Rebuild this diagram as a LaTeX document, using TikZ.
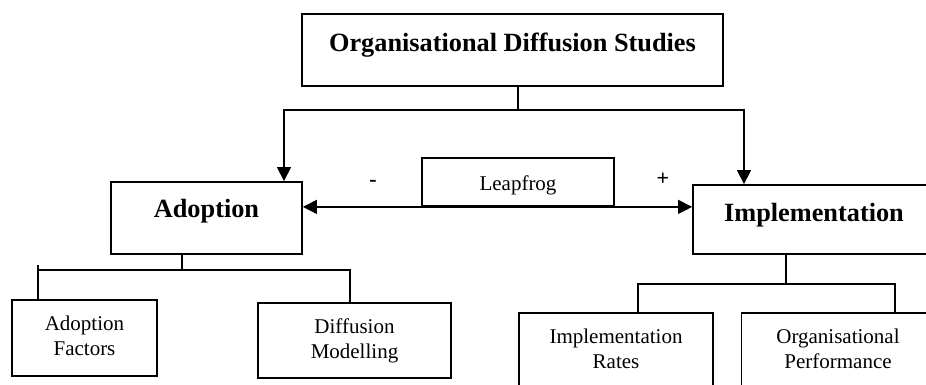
\documentclass[tikz,border=0pt]{standalone}
\usepackage{fontspec}
\setmainfont{Liberation Serif}
\usetikzlibrary{arrows.meta}

\begin{document}
\begin{tikzpicture}[x=1pt,y=-1pt,
  box/.style={draw,line width=1.8pt,inner sep=0pt,align=center},
  head/.style={box,font=\bfseries\fontsize{26.3}{30}\selectfont},
  leaf/.style={box,font=\fontsize{21}{25}\selectfont},
  sign/.style={anchor=base,font=\bfseries\fontsize{22}{25}\selectfont},
  link/.style={line width=1.3pt},
  arr/.style={link,-{Triangle[length=14pt,width=14pt]}},
  arrs/.style={link,{Triangle[length=14pt,width=14pt]}-{Triangle[length=14pt,width=14pt]}}]
  \useasboundingbox (0,0) rectangle (926,385);
  \clip (0,0) rectangle (926,385);
  % boxes
  \node[head,minimum width=421pt,minimum height=72pt,text height=18pt,text depth=14.8pt] (study) at (512.5,50) {Organisational Diffusion Studies};
  \node[head,minimum width=191pt,minimum height=72pt,text height=18pt,text depth=19.4pt] (adopt) at (206.5,218) {Adoption};
  \node[head,minimum width=242pt,minimum height=69pt,text height=18pt,text depth=15pt] (impl) at (814,219.5) {Implementation};
  \node[leaf,minimum width=192pt,minimum height=48pt,text height=16pt,text depth=0pt] (leap) at (518,182) {Leapfrog};
  \node[leaf,minimum width=145pt,minimum height=76pt,text height=34pt,text depth=0pt] (factors) at (84.5,338) {Adoption\\Factors};
  \node[leaf,minimum width=193pt,minimum height=75pt,text height=35pt,text depth=0pt] (diffmod) at (354.5,340.5) {Diffusion\\Modelling};
  \node[leaf,minimum width=194pt,minimum height=82pt,text height=28pt,text depth=0pt] (rates) at (616,354) {Implementation\\Rates};
  \node[leaf,minimum width=193pt,minimum height=82pt,text height=28pt,text depth=0pt] (perf) at (838,354) {Organisational\\Performance};
  \node[sign] (minus) at (373,186.5) {-};
  \node[sign] (plus) at (663,185) {+};
  % top split
  \coordinate (fork) at (518,110);
  \coordinate (forkL) at (284,110);
  \coordinate (forkR) at (744,110);
  \draw[link] (study.south -| fork) -- (fork);
  \draw[arr] (fork) -| (adopt.north -| forkL);
  \draw[arr] (fork) -| (impl.north -| forkR);
  \draw[arrs] (adopt.east |- leap.south) -- (impl.west |- leap.south);
  % adoption branch
  \coordinate (forkA) at (182,270);
  \coordinate (legA) at (38,265);
  \coordinate (legB) at (350,270);
  \draw[link] (adopt.south -| forkA) -- (forkA);
  \draw[link] (legA) -- (legA |- factors.north);
  \draw[link] (legA |- forkA) -| (legB |- diffmod.north);
  % implementation branch
  \coordinate (forkI) at (786,284);
  \coordinate (legC) at (638,284);
  \coordinate (legD) at (895,284);
  \draw[link] (impl.south -| forkI) -- (forkI);
  \draw[link] (legC |- rates.north) -- (legC) -- (legD) -- (legD |- perf.north);
\end{tikzpicture}
\end{document}
